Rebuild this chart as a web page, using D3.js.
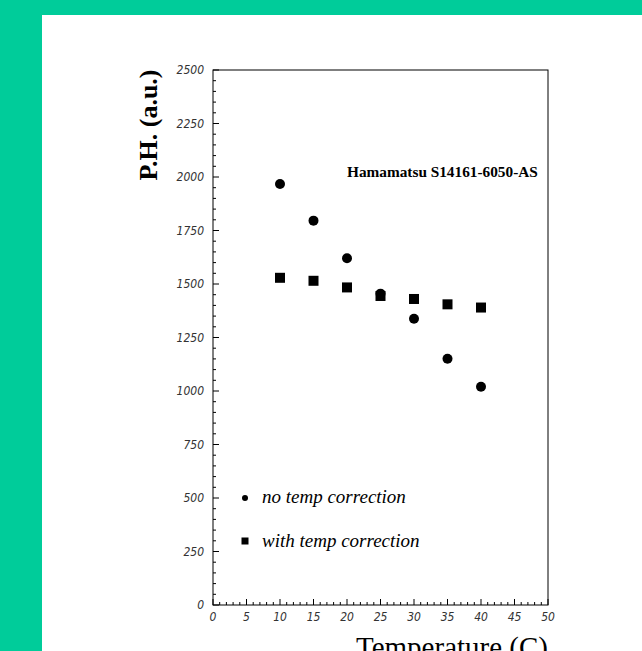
<!DOCTYPE html>
<html>
<head>
<title>Pulse height vs temperature</title>
<script src="https://cdnjs.cloudflare.com/ajax/libs/d3/7.8.5/d3.min.js"></script>
<style>
  body { margin: 0; background: #00cc9a; }
</style>
</head>
<body>
<svg id="chart" width="642" height="651"></svg>
<script>
// data
var temps = [10, 15, 20, 25, 30, 35, 40];
var noCorr = [1967, 1796, 1620, 1455, 1338, 1151, 1020];
var withCorr = [1529, 1515, 1484, 1444, 1430, 1405, 1390];
var xTicks = [0, 5, 10, 15, 20, 25, 30, 35, 40, 45, 50];
var yTicks = [0, 250, 500, 750, 1000, 1250, 1500, 1750, 2000, 2250, 2500];

var svg = d3.select("#chart");

// white page area
svg.append("rect").attr("x", 42).attr("y", 15).attr("width", 600).attr("height", 636).attr("fill", "white");

var plotL = 213, plotR = 548, plotT = 70, plotB = 605;
var x = d3.scaleLinear().domain([0, 50]).range([plotL, plotR]);
var y = d3.scaleLinear().domain([0, 2500]).range([plotB, plotT]);

// frame
svg.append("rect")
  .attr("x", plotL).attr("y", plotT)
  .attr("width", plotR - plotL).attr("height", plotB - plotT)
  .attr("fill", "none").attr("stroke", "black").attr("stroke-width", 1);

// x ticks, pointing up into the frame
d3.range(0, 51).forEach(function(v) {
  var len = v % 5 == 0 ? 6 : 3;
  svg.append("line")
    .attr("x1", x(v)).attr("x2", x(v))
    .attr("y1", plotB).attr("y2", plotB - len)
    .attr("stroke", "black");
});
// y ticks, pointing right
d3.range(0, 2501, 50).forEach(function(v) {
  var len = v % 250 == 0 ? 6 : 3;
  svg.append("line")
    .attr("x1", plotL).attr("x2", plotL + len)
    .attr("y1", y(v)).attr("y2", y(v))
    .attr("stroke", "black");
});

var tickFont = "'DejaVu Sans Condensed', 'Liberation Sans Narrow', sans-serif";
svg.selectAll(".xl").data(xTicks).enter().append("text")
  .attr("x", function(d) { return x(d); })
  .attr("y", 621)
  .attr("text-anchor", "middle")
  .attr("font-family", tickFont).attr("font-style", "italic")
  .attr("font-size", 12).attr("fill", "#333")
  .text(function(d) { return d; });

svg.selectAll(".yl").data(yTicks).enter().append("text")
  .attr("x", 204)
  .attr("y", function(d) { return y(d) + 4; })
  .attr("text-anchor", "end")
  .attr("font-family", tickFont).attr("font-style", "italic")
  .attr("font-size", 12).attr("fill", "#333")
  .text(function(d) { return d; });

// axis titles
svg.append("text")
  .attr("transform", "translate(157,125) rotate(-90)")
  .attr("text-anchor", "middle")
  .attr("font-family", "'Liberation Serif', serif")
  .attr("font-weight", "bold").attr("font-size", 26)
  .text("P.H. (a.u.)");

svg.append("text")
  .attr("x", 548).attr("y", 657)
  .attr("text-anchor", "end")
  .attr("font-family", "'Liberation Serif', serif")
  .attr("font-size", 29)
  .text("Temperature (C)");

svg.append("text")
  .attr("x", 347).attr("y", 177)
  .attr("font-family", "'Liberation Serif', serif")
  .attr("font-weight", "bold").attr("font-size", 15.3)
  .text("Hamamatsu S14161-6050-AS");

// markers
svg.selectAll(".c").data(temps).enter().append("circle")
  .attr("cx", function(d) { return x(d); })
  .attr("cy", function(d, i) { return y(noCorr[i]); })
  .attr("r", 5).attr("fill", "black");

svg.selectAll(".s").data(temps).enter().append("rect")
  .attr("x", function(d) { return x(d) - 5; })
  .attr("y", function(d, i) { return y(withCorr[i]) - 5; })
  .attr("width", 10).attr("height", 10).attr("fill", "black");

// legend
svg.append("circle").attr("cx", 245).attr("cy", 498).attr("r", 3).attr("fill", "black");
svg.append("rect").attr("x", 241.5).attr("y", 537.5).attr("width", 7).attr("height", 7).attr("fill", "black");
svg.append("text").attr("x", 262).attr("y", 503)
  .attr("font-family", "'Liberation Serif', serif").attr("font-style", "italic")
  .attr("font-size", 19).text("no temp correction");
svg.append("text").attr("x", 262).attr("y", 547)
  .attr("font-family", "'Liberation Serif', serif").attr("font-style", "italic")
  .attr("font-size", 19).text("with temp correction");
</script>
</body>
</html>
